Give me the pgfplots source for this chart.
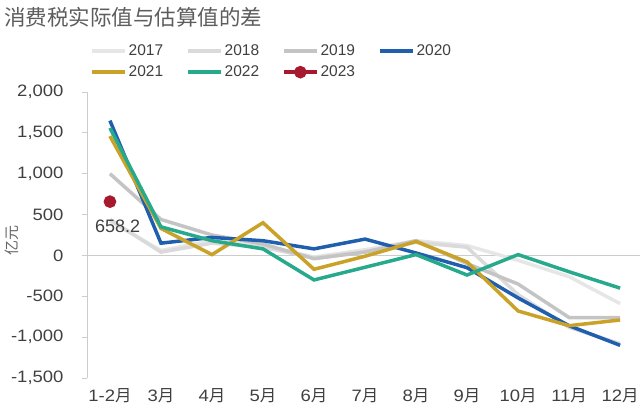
\documentclass[border=0pt]{standalone}
\usepackage{pgfplots}
\pgfplotsset{compat=1.18}
\usepackage{fontspec}
\setmainfont{Liberation Sans}
\newfontfamily\tickfont[FakeStretch=1.12]{Liberation Sans}
\newfontfamily\cjk{Noto Sans CJK SC}
\definecolor{txt}{HTML}{404040}
\definecolor{gA}{HTML}{E6E6E6}
\definecolor{gB}{HTML}{DADADA}
\definecolor{gC}{HTML}{C4C4C4}
\definecolor{cBlue}{HTML}{1F5FAD}
\definecolor{cGold}{HTML}{C9A227}
\definecolor{cTeal}{HTML}{27A98B}
\definecolor{cRed}{HTML}{A6192E}
\newcommand{\yue}{{\cjk 月}}
\begin{document}
\begin{tikzpicture}
\useasboundingbox (0,0) rectangle (640bp,413bp);
\node[anchor=west, text=txt!85, font=\cjk\fontsize{21.5bp}{24bp}\selectfont, inner sep=0pt] at (4bp,396bp) {消费税实际值与估算值的差};
\begin{axis}[
  at={(87bp,35bp)}, anchor=south west,
  scale only axis, width=553bp, height=286bp,
  xmin=-0.45, xmax=10.39, ymin=-1500, ymax=2000,
  axis y line*=left, axis x line*=bottom,
  x axis line style={draw=none},
  y axis line style={draw=black!20, line width=0.8bp},
  xtick={0,...,10},
  xticklabels={1-2\yue,3\yue,4\yue,5\yue,6\yue,7\yue,8\yue,9\yue,10\yue,11\yue,12\yue},
  xtick style={draw=none},
  ytick={-1500,-1000,-500,0,500,1000,1500,2000},
  yticklabels={{-1,500},{-1,000},{-500},{0},{500},{1,000},{1,500},{2,000}},
  ytick style={draw=black!20, line width=0.8bp},
  tick align=outside, major tick length=5bp,
  ticklabel style={text=txt, font=\tickfont\fontsize{16.5bp}{18bp}\selectfont},
  yticklabel style={xshift=-15bp},
  xticklabel style={yshift=-2bp},
  extra y ticks={0}, extra y tick labels={},
  extra y tick style={grid=major, major grid style={draw=black!20, line width=0.8bp}, tick style={draw=none}},
  legend columns=4,
  legend style={at={(0.0,1.18)}, anchor=north west, draw=none, fill=none,
    font=\fontsize{15.5bp}{17bp}\selectfont, text=txt,
    /tikz/every even column/.append style={column sep=21bp},
    row sep=5bp},
  legend cell align=left,
  legend image code/.code={\draw[#1, mark=none] (0bp,0bp) -- (33bp,0bp);},
  clip=false,
]
\addplot[gA, line width=3.5bp] coordinates {(0,420) (1,60) (2,180) (3,120) (4,-20) (5,70) (6,180) (7,120) (8,-60) (9,-260) (10,-590)};
\addlegendentry{2017}
\addplot[gB, line width=3.5bp] coordinates {(0,440) (1,40) (2,150) (3,100) (4,-30) (5,50) (6,160) (7,100) (8,-480) (9,-880) (10,-1080)};
\addlegendentry{2018}
\addplot[gC, line width=3.5bp] coordinates {(0,1000) (1,440) (2,250) (3,140) (4,-40) (5,40) (6,180) (7,-100) (8,-350) (9,-760) (10,-760)};
\addlegendentry{2019}
\addplot[cBlue, line width=3.5bp] coordinates {(0,1650) (1,150) (2,220) (3,180) (4,80) (5,200) (6,30) (7,-150) (8,-520) (9,-860) (10,-1100)};
\addlegendentry{2020}
\addplot[cGold, line width=3.5bp] coordinates {(0,1460) (1,330) (2,10) (3,400) (4,-170) (5,-10) (6,170) (7,-80) (8,-680) (9,-860) (10,-790)};
\addlegendentry{2021}
\addplot[cTeal, line width=3.5bp] coordinates {(0,1560) (1,350) (2,180) (3,80) (4,-300) (5,-145) (6,10) (7,-240) (8,10) (9,-200) (10,-400)};
\addlegendentry{2022}
\addplot[cRed, line width=3.5bp, mark=*, mark size=4.5bp, mark options={fill=cRed, draw=none},
  legend image code/.code={\draw[cRed, line width=3.5bp] (0bp,0bp) -- (33bp,0bp); \fill[cRed] (16.5bp,0bp) circle (4.5bp);},
  nodes near coords, point meta=explicit symbolic,
  every node near coord/.append style={anchor=north west, xshift=-20bp, yshift=-13bp, text=txt, font=\fontsize{18bp}{20bp}\selectfont}]
  coordinates {(0,658.2) [658.2]};
\addlegendentry{2023}
\node[rotate=90, text=black!60, font=\cjk\fontsize{15bp}{17bp}\selectfont] at (rel axis cs:-0.136,0.48) {亿元};
\end{axis}
\end{tikzpicture}
\end{document}
